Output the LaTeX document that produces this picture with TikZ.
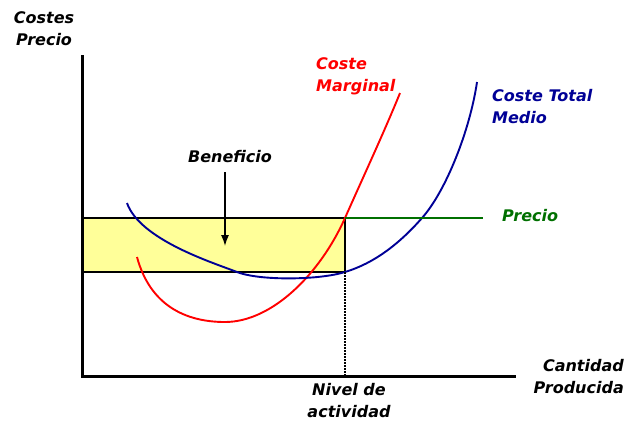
\documentclass[tikz,border=0pt]{standalone}
\usepackage{fontspec}
\setmainfont{DejaVu Sans}
\usetikzlibrary{arrows.meta}
\definecolor{amarillo}{RGB}{255,255,153}
\definecolor{verdeprecio}{RGB}{0,112,0}
\definecolor{azulmedio}{RGB}{0,0,150}

\begin{document}
\begin{tikzpicture}[x=1pt,y=-1pt,
	etiqueta/.style={font=\fontsize{16}{22}\selectfont\bfseries\itshape,inner sep=0pt},
	eje/.style={line width=3pt},
	curva/.style={line width=1.9pt},
	flecha/.style={line width=1.4pt,-{Latex[length=11pt,width=8pt]}}]
				\useasboundingbox (0,0) rectangle (632,421);
				%\draw[help lines,step=20] (0,0) grid (632,421);
				\coordinate (O) at (82,376);
				\coordinate (ytop) at (82,55);
				\coordinate (xend) at (516,376);
				\coordinate (cm) at (345,218);
				\coordinate (ctm) at (345,272);
				\coordinate (pfin) at (483,218);
				\coordinate (punta) at (225,246);
				% zona de beneficio
				\filldraw[fill=amarillo,draw=black,line width=1.6pt] (O |- cm) rectangle (ctm);
				% curvas
				\draw[curva,red] (137,257) .. controls (150,305) and (185,322) .. (225,322)
					.. controls (272,322) and (320,274) .. (cm)
					.. controls (365,173) and (385,130) .. (400,93);
				\draw[curva,azulmedio] (127,203) .. controls (140,240) and (214,263) .. (237,272)
					.. controls (260,281) and (320,280) .. (ctm)
					.. controls (375,263) and (400,243) .. (422,218)
					.. controls (446,191) and (470,130) .. (477,82);
				\draw[curva,verdeprecio] (cm) -- (pfin);
				\draw[line width=1.4pt,dash pattern=on 1.5pt off 1.5pt] (ctm) -- (O -| ctm);
				% ejes
				\draw[eje] (ytop) -- (O) -- (xend);
				% textos
				\node[etiqueta,align=center] (ylab) at (44,29) {Costes\\Precio};
				\node[etiqueta,align=right,anchor=east] (xlab) at (624,377) {Cantidad\\Producida};
				\node[etiqueta,align=center] (nivel) at (349,401) {Nivel de\\actividad};
				\node[etiqueta] (benef) at (230,157) {Beneficio};
				\node[etiqueta,red,align=left,anchor=west] (lcm) at (316,76) {Coste\\Marginal};
				\node[etiqueta,azulmedio,align=left,anchor=west] (lctm) at (492,107) {Coste Total\\Medio};
				\node[etiqueta,verdeprecio,anchor=west] (lprecio) at (502,216) {Precio};
				\draw[flecha] ([yshift=-9pt]benef.south -| punta) -- (punta);
\end{tikzpicture}
\end{document}
